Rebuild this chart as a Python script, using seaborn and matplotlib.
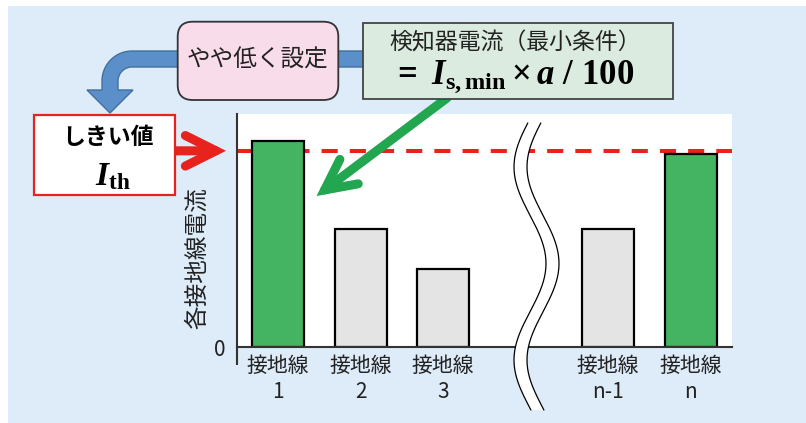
import numpy as np
import pandas as pd
import matplotlib
matplotlib.use('Agg')
import matplotlib.pyplot as plt
import matplotlib.transforms as mtransforms
from matplotlib.patches import Rectangle, FancyBboxPatch, Polygon
from matplotlib.lines import Line2D
import seaborn as sns

# bar data (currents as % of the axis height)
wire_labels = ['接地線\n1', '接地線\n2', '接地線\n3', '接地線\nn-1', '接地線\nn']
wire_pos = [0, 1, 2, 4, 5]   # slot 3 is left empty for the axis break
wire_current = [88.5, 50.6, 33.5, 50.6, 82.7]
wire_group = ['high', 'low', 'low', 'low', 'high']
threshold = 84.2
y_max = 100

sns.set_style('white')
plt.rcParams['font.family'] = ['Noto Sans CJK JP', 'DejaVu Sans']
plt.rcParams['mathtext.fontset'] = 'custom'
plt.rcParams['mathtext.rm'] = 'Liberation Serif:bold'
plt.rcParams['mathtext.bf'] = 'Liberation Serif:bold'
plt.rcParams['mathtext.it'] = 'Liberation Serif:italic:bold'

W, H = 806, 423
fig = plt.figure(figsize=(W / 100, H / 100), dpi=100)
fig.patch.set_facecolor('white')
# pixel coordinates with the origin at the top left, for the decorations
px = mtransforms.Affine2D().scale(1 / W, -1 / H).translate(0, 1) + fig.transFigure

fig.add_artist(Rectangle((8, 6), W - 8, H - 6, transform=px, fc='#deebf8', ec='none', zorder=-5))

# bar chart
ax = fig.add_axes([237 / W, 1 - 347 / H, 495 / W, 233 / H])
df = pd.DataFrame({'pos': wire_pos, 'current': wire_current, 'group': wire_group})
sns.barplot(data=df, x='pos', y='current', hue='group',
            palette={'high': '#44b462', 'low': '#e4e4e4'}, saturation=1,
            native_scale=True, dodge=False, width=0.63,
            edgecolor='black', linewidth=1.6, legend=False, ax=ax)
ax.axhline(threshold, color='#e8221c', lw=2.9, ls=(0, (4, 3)), dash_capstyle='butt', zorder=0.5)
ax.set_xlim(-0.5, 5.5)
ax.set_ylim(0, y_max)
ax.set_xticks(wire_pos, wire_labels)
ax.set_yticks([0])
ax.set_xlabel('')
ax.set_ylabel('各接地線電流', fontsize=17, color='#222222', va='center')
ax.yaxis.set_label_coords(-0.0788, 0.382)
ax.tick_params(axis='both', length=0, labelsize=15, colors='#222222')
ax.tick_params(axis='x', pad=6)
ax.tick_params(axis='y', pad=8)
for s in ['top', 'right']:
    ax.spines[s].set_visible(False)
for s in ['left', 'bottom']:
    ax.spines[s].set_color('#333333')
    ax.spines[s].set_linewidth(1.5)
ax.plot([0, 0], [0, -18 / 233], transform=ax.transAxes, color='#333333', lw=1.5,
        clip_on=False, solid_capstyle='butt')

# red arrow to the threshold line
ax.annotate('', xy=(-11 / 495, threshold), xycoords=('axes fraction', 'data'),
            xytext=(175, threshold), textcoords=('figure pixels', 'data'),
            arrowprops=dict(arrowstyle='->,head_length=1.1,head_width=0.55', mutation_scale=20,
                            color='#e8221c', lw=6.5, capstyle='round', joinstyle='miter',
                            shrinkA=0, shrinkB=0),
            annotation_clip=False)
# green arrow from the detector box to bar 1
ax.annotate('', xy=(0.464, 64.8), xycoords='data',
            xytext=(447, H - 98), textcoords='figure pixels',
            arrowprops=dict(arrowstyle='->,head_length=1.1,head_width=0.55', mutation_scale=20,
                            color='#22a650', lw=6.5, capstyle='round', joinstyle='miter',
                            shrinkA=0, shrinkB=0),
            annotation_clip=False)

# axis break (two wavy lines, white between)
yy = np.linspace(123, 410, 200)
xl = 530 - 16 * np.cos(2 * np.pi * (yy - 167) / 193)
xr = xl + 13
fig.add_artist(Polygon(np.r_[np.c_[xl, yy], np.c_[xr, yy][::-1]], transform=px,
                       fc='white', ec='none', zorder=2))
fig.add_artist(Line2D(xl, yy, transform=px, color='black', lw=0.9, zorder=2.1))
fig.add_artist(Line2D(xr, yy, transform=px, color='black', lw=0.9, zorder=2.1))

# blue bent arrow
cx, cy = 132, 81
t_out = np.linspace(-np.pi / 2, -np.pi, 20)
t_in = t_out[::-1]
outer = np.c_[cx + 30 * np.cos(t_out), cy + 30 * np.sin(t_out)]
inner = np.c_[cx + 14 * np.cos(t_in), cy + 14 * np.sin(t_in)]
blue_pts = np.r_[[[363, 51]], outer,
                 [[102, 90], [87, 90], [110, 113], [133, 90], [118, 90]],
                 inner, [[363, 67]]]
fig.add_artist(Polygon(blue_pts, closed=True, transform=px, fc='#5b8fc9', ec='#41719c',
                       lw=1, zorder=1))

# pink box
fig.add_artist(FancyBboxPatch((177.7, 21.7), 160.6, 78.3, boxstyle='round,pad=0,rounding_size=15',
                              transform=px, fc='#f9dcea', ec='#333333', lw=1.3, zorder=2))
fig.text(258, 60, 'やや低く設定', transform=px, ha='center', va='center', fontsize=17,
         color='#222222', zorder=3)

# detector current box
fig.add_artist(Rectangle((362.7, 22.7), 310.6, 76.6, transform=px, fc='#dcebe0',
                         ec='#444444', lw=1.3, zorder=2))
fig.text(515.5, 43, '検知器電流（最小条件）', transform=px, ha='center', va='center',
         fontsize=16.5, color='#222222', zorder=3)
fig.text(513, 77, r'$=\ I_{\mathrm{s,min}}\times a\ /\ 100$', transform=px, ha='center',
         va='center', fontsize=25, color='black', zorder=3)

# threshold box
fig.add_artist(Rectangle((34.3, 115), 140.7, 80, transform=px, fc='white',
                         ec='#e52420', lw=1.6, zorder=2))
fig.text(107.5, 137, 'しきい値', transform=px, ha='center', va='center', fontsize=16.5,
         fontweight='bold', color='black', zorder=3)
fig.text(113, 176, r'$I_{\mathrm{th}}$', transform=px, ha='center', va='center',
         fontsize=24, color='black', zorder=3)

fig.savefig('out.png', dpi=100, facecolor=fig.get_facecolor())
